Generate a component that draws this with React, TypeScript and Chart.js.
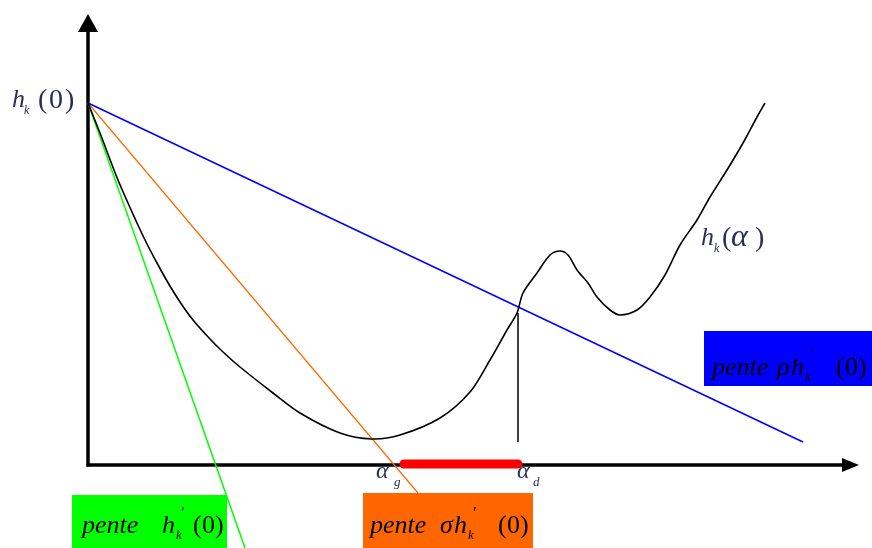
import React, { useEffect, useRef } from "react";
import { Chart, registerables } from "chart.js";

Chart.register(...registerables);

// abscissa alpha and h_k(alpha) values of the curve
const curveAlpha = [0, 12, 30, 49, 59, 69, 79, 92, 105, 122, 135, 152, 185, 212, 252, 284, 312, 352, 382, 402, 419, 429, 435, 449, 462, 472, 480, 489, 500, 509, 522, 532, 549, 562, 577, 592, 609, 622, 639, 655, 669, 677];
const curveH = [362, 332, 285, 242, 221, 202, 184, 163, 145, 126, 113, 98, 72, 52, 32, 26, 30, 47, 73, 105, 135, 152, 172, 192, 210, 214, 210, 195, 182, 168, 155, 150, 155, 168, 190, 220, 245, 268, 295, 322, 348, 362];

// tangent lines from h_k(0)
const h0 = 362;
const blueAlpha = [0, 715];
const blueH = [h0, 23];
const orangeAlpha = [0, 330];
const orangeH = [h0, -28];
const greenAlpha = [0, 157];
const greenH = [h0, -83];

// alpha_g .. alpha_d interval and alpha_d marker
const alphaG = 316;
const alphaD = 430;
const alphaDTop = 152;
const alphaDBottom = 23;

const X_MIN = -88, X_MAX = 784, Y_MIN = -83, Y_MAX = 465;

const pts = (xs: number[], ys: number[]) => xs.map((x, i) => ({ x, y: ys[i] }));

// piece of text placed at absolute x / baseline y
type Piece = { t: string; x: number; y: number; italic?: boolean; size?: number };

const SERIF = "'Liberation Serif', 'DejaVu Serif', serif";

function drawPieces(ctx: CanvasRenderingContext2D, pieces: Piece[], color: string) {
  ctx.save();
  ctx.fillStyle = color;
  ctx.textBaseline = "alphabetic";
  ctx.textAlign = "left";
  for (const p of pieces) {
    ctx.font = `${p.italic ? "italic " : ""}${p.size ?? 26}px ${SERIF}`;
    ctx.fillText(p.t, p.x, p.y);
  }
  ctx.restore();
}

function penteLabel(x0: number, base: number, sym: string, symX: number, parenX: number): Piece[] {
  const pieces: Piece[] = [{ t: "pente", x: x0, y: base, italic: true }];
  let hx = symX;
  if (sym) {
    pieces.push({ t: sym, x: symX, y: base, italic: true });
    hx = symX + 14;
  }
  pieces.push({ t: "h", x: hx, y: base, italic: true });
  pieces.push({ t: "'", x: hx + 18, y: base - 15, italic: true, size: 17 });
  pieces.push({ t: "k", x: hx + 14, y: base + 6, italic: true, size: 13 });
  pieces.push({ t: "(", x: parenX, y: base, size: 26 });
  pieces.push({ t: "0", x: parenX + 9, y: base, size: 26 });
  pieces.push({ t: ")", x: parenX + 22, y: base, size: 26 });
  return pieces;
}

const diagramPlugin = {
  id: "diagram",
  beforeDatasetsDraw(chart: any) {
    const ctx: CanvasRenderingContext2D = chart.ctx;
    const xs = chart.scales.x, ys = chart.scales.y;
    const ox = xs.getPixelForValue(0), oy = ys.getPixelForValue(0);
    ctx.save();
    ctx.strokeStyle = "#000";
    ctx.fillStyle = "#000";
    ctx.lineWidth = 3.5;
    // y axis
    ctx.beginPath();
    ctx.moveTo(ox, oy + 1.5);
    ctx.lineTo(ox, 30);
    ctx.stroke();
    ctx.beginPath();
    ctx.moveTo(ox, 14);
    ctx.lineTo(ox - 10, 32);
    ctx.lineTo(ox + 10, 32);
    ctx.closePath();
    ctx.fill();
    // x axis
    ctx.beginPath();
    ctx.moveTo(ox - 1.5, oy);
    ctx.lineTo(845, oy);
    ctx.stroke();
    ctx.beginPath();
    ctx.moveTo(859, oy);
    ctx.lineTo(842, oy - 7);
    ctx.lineTo(842, oy + 7);
    ctx.closePath();
    ctx.fill();
    ctx.restore();
  },
  afterDatasetsDraw(chart: any) {
    const ctx: CanvasRenderingContext2D = chart.ctx;
    const lbl = "#2a2f5a";
    // boxes
    ctx.save();
    ctx.fillStyle = "#0000ff";
    ctx.fillRect(704, 331, 170, 55);
    ctx.fillStyle = "#00ff00";
    ctx.fillRect(72, 495, 155, 60);
    ctx.fillStyle = "#ff6600";
    ctx.fillRect(363, 493, 170, 60);
    ctx.restore();

    drawPieces(ctx, penteLabel(712, 375, "ρ", 777, 836), "#000");
    drawPieces(ctx, penteLabel(82, 533, "", 162, 193), "#000");
    drawPieces(ctx, penteLabel(370, 533, "σ", 440, 498), "#000");

    // h_k(0)
    drawPieces(ctx, [
      { t: "h", x: 12, y: 107, italic: true, size: 26 },
      { t: "k", x: 24, y: 114, italic: true, size: 12 },
      { t: "(", x: 38, y: 108, size: 28 },
      { t: "0", x: 49, y: 108, size: 28 },
      { t: ")", x: 65, y: 108, size: 28 },
    ], lbl);
    // h_k(alpha)
    drawPieces(ctx, [
      { t: "h", x: 701, y: 245, italic: true, size: 26 },
      { t: "k", x: 714, y: 252, italic: true, size: 12 },
      { t: "(", x: 722, y: 246, size: 28 },
      { t: "α", x: 731, y: 246, italic: true, size: 32 },
      { t: ")", x: 755, y: 246, size: 28 },
    ], lbl);
    // alpha_g, alpha_d
    drawPieces(ctx, [
      { t: "α", x: 376, y: 478, italic: true, size: 24 },
      { t: "g", x: 394, y: 486, italic: true, size: 13 },
      { t: "α", x: 517, y: 478, italic: true, size: 24 },
      { t: "d", x: 533, y: 486, italic: true, size: 13 },
    ], lbl);
  },
};

export default function App() {
  const ref = useRef<HTMLCanvasElement | null>(null);
  useEffect(() => {
    if (!ref.current) return;
    const line = (data: any[], color: string, width: number, extra: any = {}) => ({
      data,
      showLine: true,
      borderColor: color,
      backgroundColor: color,
      borderWidth: width,
      pointRadius: 0,
      fill: false,
      ...extra,
    });
    const chart = new Chart(ref.current, {
      type: "scatter",
      data: {
        datasets: [
          line(pts(curveAlpha, curveH), "#000000", 1.6, { tension: 0.3, order: 1 }),
          line(pts(blueAlpha, blueH), "#0000ff", 1.5, { order: 2 }),
          line(pts(orangeAlpha, orangeH), "#ff6600", 1.2, { order: 3 }),
          line(pts(greenAlpha, greenH), "#00ff00", 1.5, { order: 4 }),
          line(pts([alphaD, alphaD], [alphaDTop, alphaDBottom]), "#000000", 1.5, { order: 5 }),
          line(pts([alphaG, alphaD], [1, 1]), "#ff0000", 9, { borderCapStyle: "round", order: 0 }),
        ],
      },
      options: {
        animation: false,
        responsive: false,
        maintainAspectRatio: false,
        layout: { padding: 0 },
        plugins: { legend: { display: false }, tooltip: { enabled: false } },
        scales: {
          x: { type: "linear", min: X_MIN, max: X_MAX, display: false },
          y: { type: "linear", min: Y_MIN, max: Y_MAX, display: false },
        },
      },
      plugins: [diagramPlugin],
    });
    return () => chart.destroy();
  }, []);
  return (
    <div style={{ position: "fixed", left: 0, top: 0, width: 872, height: 548, background: "#fff" }}>
      <canvas ref={ref} width={872} height={548} style={{ display: "block" }} />
    </div>
  );
}
